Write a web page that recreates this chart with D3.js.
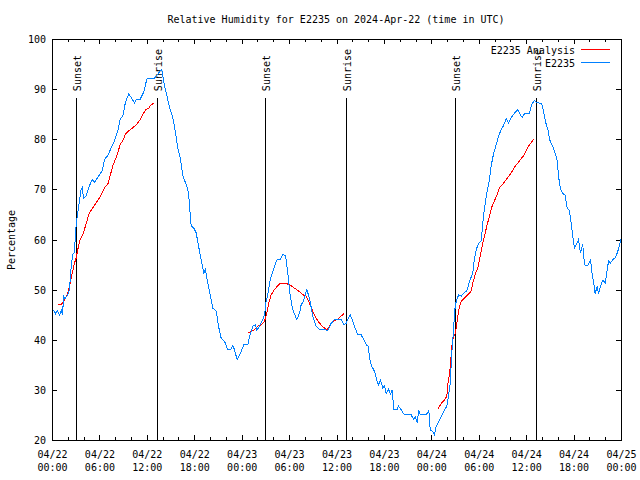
<!DOCTYPE html>
<html><head><meta charset="utf-8">
<script src="https://cdn.jsdelivr.net/npm/d3@7"></script>
<style>
body{margin:0;background:#fff}
svg{display:block;background:#fff}
text{font-family:"DejaVu Sans Mono",monospace;font-size:10px;fill:#000}
</style></head><body>
<svg id="chart" width="640" height="480"></svg>
<script>
const titleText = "Relative Humidity for E2235 on 2024-Apr-22 (time in UTC)";
const yLabel = "Percentage";
const startTime = "2024-04-22T00:00:00Z";
const endTime = "2024-04-25T00:00:00Z";
const seriesNames = ["E2235 Analysis", "E2235"];
const seriesColors = ["#ff0000", "#0080ff"];

// observed series (hours since start, %)
const obsHours = [0.19,0.45,0.7,0.95,1.2,1.35,1.45,1.65,2.0,2.21,2.43,2.63,2.85,2.97,3.14,3.39,3.69,3.82,3.99,4.33,4.66,5.09,5.38,5.92,6.35,6.64,7.06,7.49,7.91,8.33,8.63,8.96,9.30,9.72,10.02,10.44,10.73,11.16,11.58,11.70,12.0,12.46,12.97,13.39,13.89,14.23,14.45,14.74,14.99,15.29,15.59,15.92,16.26,16.55,16.98,17.27,17.61,17.94,18.25,18.54,18.88,19.21,19.42,19.71,20.06,20.35,20.78,21.07,21.41,21.83,22.24,22.59,22.88,23.09,23.43,23.94,24.27,24.78,24.99,25.41,25.75,25.91,26.26,26.67,26.89,27.10,27.31,27.61,28.03,28.45,28.88,29.20,29.55,29.84,30.14,30.47,30.98,31.32,31.53,31.82,32.24,32.58,33.0,33.43,33.85,34.48,34.90,35.33,35.75,36.59,36.92,37.23,37.43,37.73,38.06,38.37,38.69,39.12,39.45,39.76,40.05,40.17,40.47,40.81,41.15,41.31,41.57,41.86,42.07,42.29,42.58,42.83,43.05,43.25,43.68,43.84,44.19,44.60,45.45,45.78,45.96,46.21,46.41,46.63,47.35,47.68,47.86,48.18,48.40,48.61,49.03,49.45,49.79,49.96,50.21,50.39,50.59,50.80,50.97,51.15,51.47,51.78,52.07,52.49,52.83,53.25,53.46,53.75,54.0,54.31,54.51,54.73,55.02,55.36,55.57,55.86,56.21,56.54,56.84,57.13,57.47,57.76,58.10,58.52,58.94,59.24,59.50,59.79,60.42,60.71,61.05,61.39,61.69,61.98,62.23,62.53,62.74,62.95,63.24,63.58,63.93,64.09,64.34,64.63,64.94,65.19,65.48,65.70,65.90,66.11,66.45,66.62,66.87,67.16,67.38,67.59,67.89,68.14,68.35,68.56,68.73,68.99,69.15,69.40,69.70,70.0,70.20,70.42,70.67,70.96,71.26,71.52,71.72,71.90,72.0];
const obsValues = [46,45.2,45.8,45.0,45.8,45.0,48.7,48.2,49,50,54.7,57,57.4,61.4,64,66.7,70,70.4,68.2,68.7,70.4,72,71.4,72.7,73.7,76,76.7,78.3,79.7,81.7,84,84.7,87.4,89.1,88.3,87.3,88,88,89.3,90,92,92.2,92.2,93,94,90.7,89.3,87.3,85.7,84.3,81.7,78.3,76,72.7,71,69.3,62.7,62.3,61.3,58.7,56,53.3,54,51.3,48.7,46.3,45.7,42.7,40.3,39.7,38,38,38.9,38,36,37.7,39,39,40.7,42.7,43,41.9,42.7,44,45,47.7,49,52,54,55.9,56,57,56.8,53.3,48.7,46,44,45.3,47,47.7,50,48.3,44.7,42.7,42,42,41.9,43.3,44,44,43,43.3,44.1,45,43.7,42.3,41,41,40,39,38.7,36.3,34.7,33.7,31.7,31,32,30.3,30.8,29.3,30.1,29.2,30,26,26,26.8,26,25,25,24.1,24.7,23.5,25.9,25,25,25.9,22,21.7,21,22.7,24,25.3,26.3,26.7,29.3,31.3,37.3,41.7,46,47.7,49,48.7,49.3,49.7,51.7,53.3,56.3,58.3,59.3,59.7,63.3,66.3,69.3,72,74.7,77,79,80.7,82,82.7,84.1,83.3,84.3,85.2,85.9,85,84.3,85.1,85.2,87,87.7,87.3,87.2,87,85.3,83,82,80,79,77.7,75.7,72.7,70,69.2,68.8,66.3,65.7,63.3,60.7,58.3,59.3,60,57.3,59,55,54.7,55,56,53,51.3,49.2,50.7,49.2,50.7,51.9,51.3,53.3,55.7,55.3,56,56.3,57.3,58.3,59.5,60];

// analysis series (null = gap between runs)
const anaHours = [0.73,1.16,1.58,2.0,2.21,2.56,2.85,3.06,3.26,3.57,3.90,4.24,4.53,4.74,5.16,5.59,6.01,6.35,6.64,7.06,7.36,7.69,8.03,8.33,8.63,8.96,9.30,9.72,10.22,10.73,11.07,11.49,11.92,12.25,12.46,12.88,18,24.78,25.21,25.62,26.04,26.47,26.89,27.18,27.43,27.74,28.15,28.57,28.88,29.42,30.05,30.68,31.23,31.73,32.17,32.58,33.0,33.43,33.85,34.35,34.77,35.11,35.62,36.16,36.92,42,48.82,49.25,49.67,49.96,50.08,50.30,50.42,50.59,50.80,51.06,51.22,51.47,51.78,52.20,52.61,53.04,53.25,53.59,53.88,54.09,54.43,54.73,55.02,55.36,55.70,55.99,56.28,56.62,57.04,57.55,58.10,58.65,59.16,59.66,60.33,60.96];
const anaValues = [47,47,48,49.3,50.7,53.3,55.3,56.3,58,60,61,62.7,64.3,65.3,66.3,67.3,68.3,69.3,70.3,71,72.7,74.7,76,77.3,79,79.7,81,81.7,82.3,83,83.7,85,86,86.1,86.8,87.2,null,41.3,41.7,42,42.7,43,43.7,45.3,47.3,49,50,50.8,51.3,51.3,51,50.3,49.7,49,48.7,47.3,45.7,44.3,43.3,42.5,42,42.7,43.7,44.1,45.2,null,26.1,27.3,28,28.7,31,33.3,35,38.7,40.7,41.3,43.3,46,47.7,48.3,49,49.7,51.3,53.3,54.3,56,58.7,60.7,62.7,64.7,66.7,67.7,68.8,70.3,71,72.1,73.3,74.7,75.7,76.7,78.7,80];

// sunrise / sunset markers
const sunHours = [3.07, 13.27, 26.93, 37.18, 50.97, 61.22];
const sunLabels = ["Sunset", "Sunrise", "Sunset", "Sunrise", "Sunset", "Sunrise"];
const sunLineTop = 88.2;
const sunLabelBase = 89.6;

const yTicks = [20, 30, 40, 50, 60, 70, 80, 90, 100];

const svg = d3.select("#chart");
const W = 640, H = 480;
const L = 52, R = 621, T = 39, B = 440;
const t0 = new Date(startTime), t1 = new Date(endTime);
const hr = h => new Date(t0.getTime() + h * 3600e3);

const x = d3.scaleUtc().domain([t0, t1]).range([L, R]);
const y = d3.scaleLinear().domain([20, 100]).range([B, T]);

svg.append("rect").attr("width", W).attr("height", H).attr("fill", "#fff");

// ticks (inward, mirrored)
const majorX = d3.utcHour.every(6).range(t0, new Date(t1.getTime() + 1));
const minorX = d3.utcHour.every(2).range(t0, new Date(t1.getTime() + 1));
const tickG = svg.append("g").attr("shape-rendering", "crispEdges");
function ticks(gen, tr) {
  const g = tickG.append("g").attr("transform", tr).call(gen);
  g.select(".domain").remove();
  g.selectAll("line").attr("stroke", "#000");
  g.selectAll("text").remove();
}
ticks(d3.axisBottom(x).tickValues(minorX).tickSize(-3).tickFormat(""), `translate(0,${B})`);
ticks(d3.axisBottom(x).tickValues(majorX).tickSize(-5).tickFormat(""), `translate(0,${B})`);
ticks(d3.axisTop(x).tickValues(minorX).tickSize(-3).tickFormat(""), `translate(0,${T})`);
ticks(d3.axisTop(x).tickValues(majorX).tickSize(-5).tickFormat(""), `translate(0,${T})`);
ticks(d3.axisLeft(y).tickValues(yTicks).tickSize(-5).tickFormat(""), `translate(${L},0)`);
ticks(d3.axisRight(y).tickValues(yTicks).tickSize(-5).tickFormat(""), `translate(${R},0)`);

// border
svg.append("rect").attr("x", L + 0.5).attr("y", T + 0.5).attr("width", R - L).attr("height", B - T)
  .attr("fill", "none").attr("stroke", "#000").attr("shape-rendering", "crispEdges");

// y tick labels
svg.append("g").selectAll("text").data(yTicks).join("text")
  .attr("x", L - 6).attr("y", d => y(d) + 0.5).attr("dy", "0.35em")
  .attr("text-anchor", "end").text(d => d);

// x tick labels
const fmtD = d3.utcFormat("%m/%d"), fmtT = d3.utcFormat("%H:%M");
const xl = svg.append("g").selectAll("text").data(majorX).join("text")
  .attr("text-anchor", "middle");
xl.append("tspan").attr("x", d => x(d) + 0.5).attr("y", 458).text(d => fmtD(d));
xl.append("tspan").attr("x", d => x(d) + 0.5).attr("y", 471).text(d => fmtT(d));

// title and axis label
svg.append("text").attr("x", 336).attr("y", 23).attr("text-anchor", "middle").text(titleText);
svg.append("text").attr("transform", "translate(11,240) rotate(-90)").attr("dy", "0.35em")
  .attr("text-anchor", "middle").text(yLabel);

// sun lines
const sunG = svg.append("g");
sunG.selectAll("line").data(sunHours).join("line")
  .attr("x1", d => Math.round(x(hr(d))) + 0.5).attr("x2", d => Math.round(x(hr(d))) + 0.5)
  .attr("y1", y(20)).attr("y2", y(sunLineTop))
  .attr("stroke", "#000").attr("shape-rendering", "crispEdges");
sunG.selectAll("text").data(sunHours).join("text")
  .attr("transform", d => `translate(${Math.round(x(hr(d))) + 1},${y(sunLabelBase)}) rotate(-90)`)
  .attr("dy", "0.35em").attr("text-anchor", "start")
  .text((d, i) => sunLabels[i]);

// data lines
const obs = obsHours.map((h, i) => ({ t: hr(h), v: obsValues[i] }));
const ana = anaHours.map((h, i) => ({ t: hr(h), v: anaValues[i] }));
const line = d3.line().defined(d => d.v != null).x(d => x(d.t)).y(d => y(d.v));

svg.append("path").datum(ana).attr("d", line).attr("fill", "none")
  .attr("stroke", seriesColors[0]).attr("stroke-width", 1).attr("shape-rendering", "crispEdges");
svg.append("path").datum(obs).attr("d", line).attr("fill", "none")
  .attr("stroke", seriesColors[1]).attr("stroke-width", 1).attr("shape-rendering", "crispEdges");

// legend
const leg = svg.append("g");
seriesNames.forEach((n, i) => {
  const ly = 50 + i * 13;
  leg.append("text").attr("x", 575).attr("y", ly).attr("dy", "0.35em")
    .attr("text-anchor", "end").text(n);
  leg.append("line").attr("x1", 581).attr("x2", 610).attr("y1", ly - 0.5).attr("y2", ly - 0.5)
    .attr("stroke", seriesColors[i]).attr("shape-rendering", "crispEdges");
});
</script>
</body></html>
